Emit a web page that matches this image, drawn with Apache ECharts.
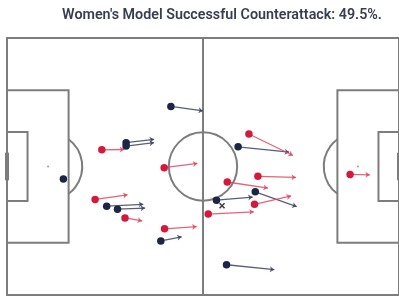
<!DOCTYPE html>
<html>
<head>
<meta charset="utf-8">
<script src="https://cdn.jsdelivr.net/npm/echarts@6/dist/echarts.min.js"></script>
<style>
html,body{margin:0;padding:0;background:#fff;}
#c1{width:399px;height:297px;}
</style>
</head>
<body>
<div id="c1"></div>
<script>
// pitch 105 x 68 metres, attacking left to right
var pitch_len = 105, pitch_wid = 68;

// red team: start [x,y] and end [x,y] of each run
var red_start = [[25.4,29.6],[42.1,34.3],[23.6,42.7],[31.6,47.6],[42.2,50.5],[64.8,25.4],[67.2,36.6],[59.0,38.1],[91.9,36.1],[66.3,44.0],[53.9,46.6]];
var red_end   = [[31.4,29.5],[51.0,33.2],[32.3,41.5],[36.2,48.4],[50.8,49.9],[76.6,31.1],[77.4,36.9],[69.9,39.7],[97.2,36.2],[76.1,41.8],[66.1,46.0]];

// navy team
var navy_start = [[43.9,18.1],[31.9,27.7],[31.9,28.6],[15.1,37.3],[26.7,44.5],[29.6,45.3],[41.2,53.7],[61.9,28.8],[56.1,42.9],[66.5,40.7],[58.8,60.0]];
var navy_end   = [[52.5,19.3],[39.4,26.8],[39.4,27.7],[15.1,37.3],[36.5,44.0],[37.0,45.0],[46.8,52.6],[75.6,30.2],[65.8,42.1],[77.6,44.6],[71.6,61.3]];

var ball = [[57.6,44.4]];

var red_c = '#d41a3c', navy_c = '#1b2547', line_c = '#7d7d7d';

function make_runs(s, e)
{
    var out = [];
    for (var i = 0; i < s.length; i++) {
        if (s[i][0] == e[i][0] && s[i][1] == e[i][1]) continue;
        out.push({coords: [s[i], e[i]]});
    }
    return out;
}

function pitch_item(params, api)
{
    var st = {stroke: line_c, lineWidth: 2, fill: null};
    var kids = [];
    function P(x, y) { return api.coord([x, y]); }
    function rect(x1, y1, x2, y2) {
        var a = P(x1, y1), b = P(x2, y2);
        kids.push({type: 'rect', shape: {x: Math.min(a[0], b[0]), y: Math.min(a[1], b[1]), width: Math.abs(b[0] - a[0]), height: Math.abs(b[1] - a[1])}, style: st});
    }
    function seg(x1, y1, x2, y2, w) {
        var a = P(x1, y1), b = P(x2, y2);
        kids.push({type: 'line', shape: {x1: a[0], y1: a[1], x2: b[0], y2: b[1]}, style: {stroke: line_c, lineWidth: w || 2}});
    }
    var r = api.size([9.15, 0])[0];
    var mid = pitch_wid / 2;
    rect(0, 0, pitch_len, pitch_wid);
    seg(pitch_len / 2, 0, pitch_len / 2, pitch_wid);
    var c = P(pitch_len / 2, mid);
    kids.push({type: 'circle', shape: {cx: c[0], cy: c[1], r: r}, style: st});
    // boxes
    rect(0, mid - 20.16, 16.5, mid + 20.16);
    rect(0, mid - 9.16, 5.5, mid + 9.16);
    rect(pitch_len - 16.5, mid - 20.16, pitch_len, mid + 20.16);
    rect(pitch_len - 5.5, mid - 9.16, pitch_len, mid + 9.16);
    // goals
    seg(0, mid - 3.66, 0, mid + 3.66, 4);
    seg(pitch_len, mid - 3.66, pitch_len, mid + 3.66, 4);
    // penalty spots
    var ps1 = P(11, mid), ps2 = P(pitch_len - 11, mid);
    kids.push({type: 'circle', shape: {cx: ps1[0], cy: ps1[1], r: 1}, style: {fill: '#999'}});
    kids.push({type: 'circle', shape: {cx: ps2[0], cy: ps2[1], r: 1}, style: {fill: '#999'}});
    // penalty arcs
    var ang = Math.acos(5.5 / 9.15);
    kids.push({type: 'arc', shape: {cx: ps1[0], cy: ps1[1], r: r, startAngle: -ang, endAngle: ang}, style: st});
    kids.push({type: 'arc', shape: {cx: ps2[0], cy: ps2[1], r: r, startAngle: Math.PI - ang, endAngle: Math.PI + ang}, style: st});
    return {type: 'group', children: kids};
}

var c1_chart = echarts.init(document.getElementById('c1'));
var c1_option = {
    animation: false,
    title: {
        text: "Women's Model Successful Counterattack: 49.5%.",
        left: 217, top: 3, textAlign: 'center',
        textStyle: {fontFamily: 'Roboto', fontSize: 14.3, fontWeight: 600, color: '#383d52'}
    },
    grid: {left: 7, right: -2, top: 38, bottom: 2},
    xAxis: {type: 'value', min: 0, max: pitch_len, show: false},
    yAxis: {type: 'value', min: 0, max: pitch_wid, inverse: true, show: false},
    series: [
        {type: 'custom', renderItem: pitch_item, data: [0], silent: true, clip: false},
        {type: 'lines', coordinateSystem: 'cartesian2d', data: make_runs(navy_start, navy_end),
         symbol: ['none', 'arrow'], symbolSize: 4.5,
         lineStyle: {color: '#3b4260', width: 1.3, opacity: 0.85}},
        {type: 'lines', coordinateSystem: 'cartesian2d', data: make_runs(red_start, red_end),
         symbol: ['none', 'arrow'], symbolSize: 4.5,
         lineStyle: {color: '#e0475f', width: 1.3, opacity: 0.85}},
        {type: 'scatter', data: navy_start, symbolSize: 7.5, itemStyle: {color: navy_c, opacity: 1}},
        {type: 'scatter', data: red_start, symbolSize: 7.5, itemStyle: {color: red_c, opacity: 1}},
        {type: 'scatter', data: ball, symbol: 'path://M0,0L10,10M10,0L0,10', symbolSize: 5,
         itemStyle: {color: 'none', borderColor: '#111', borderWidth: 1.6}}
    ]
};
c1_chart.setOption(c1_option);
</script>
</body>
</html>
